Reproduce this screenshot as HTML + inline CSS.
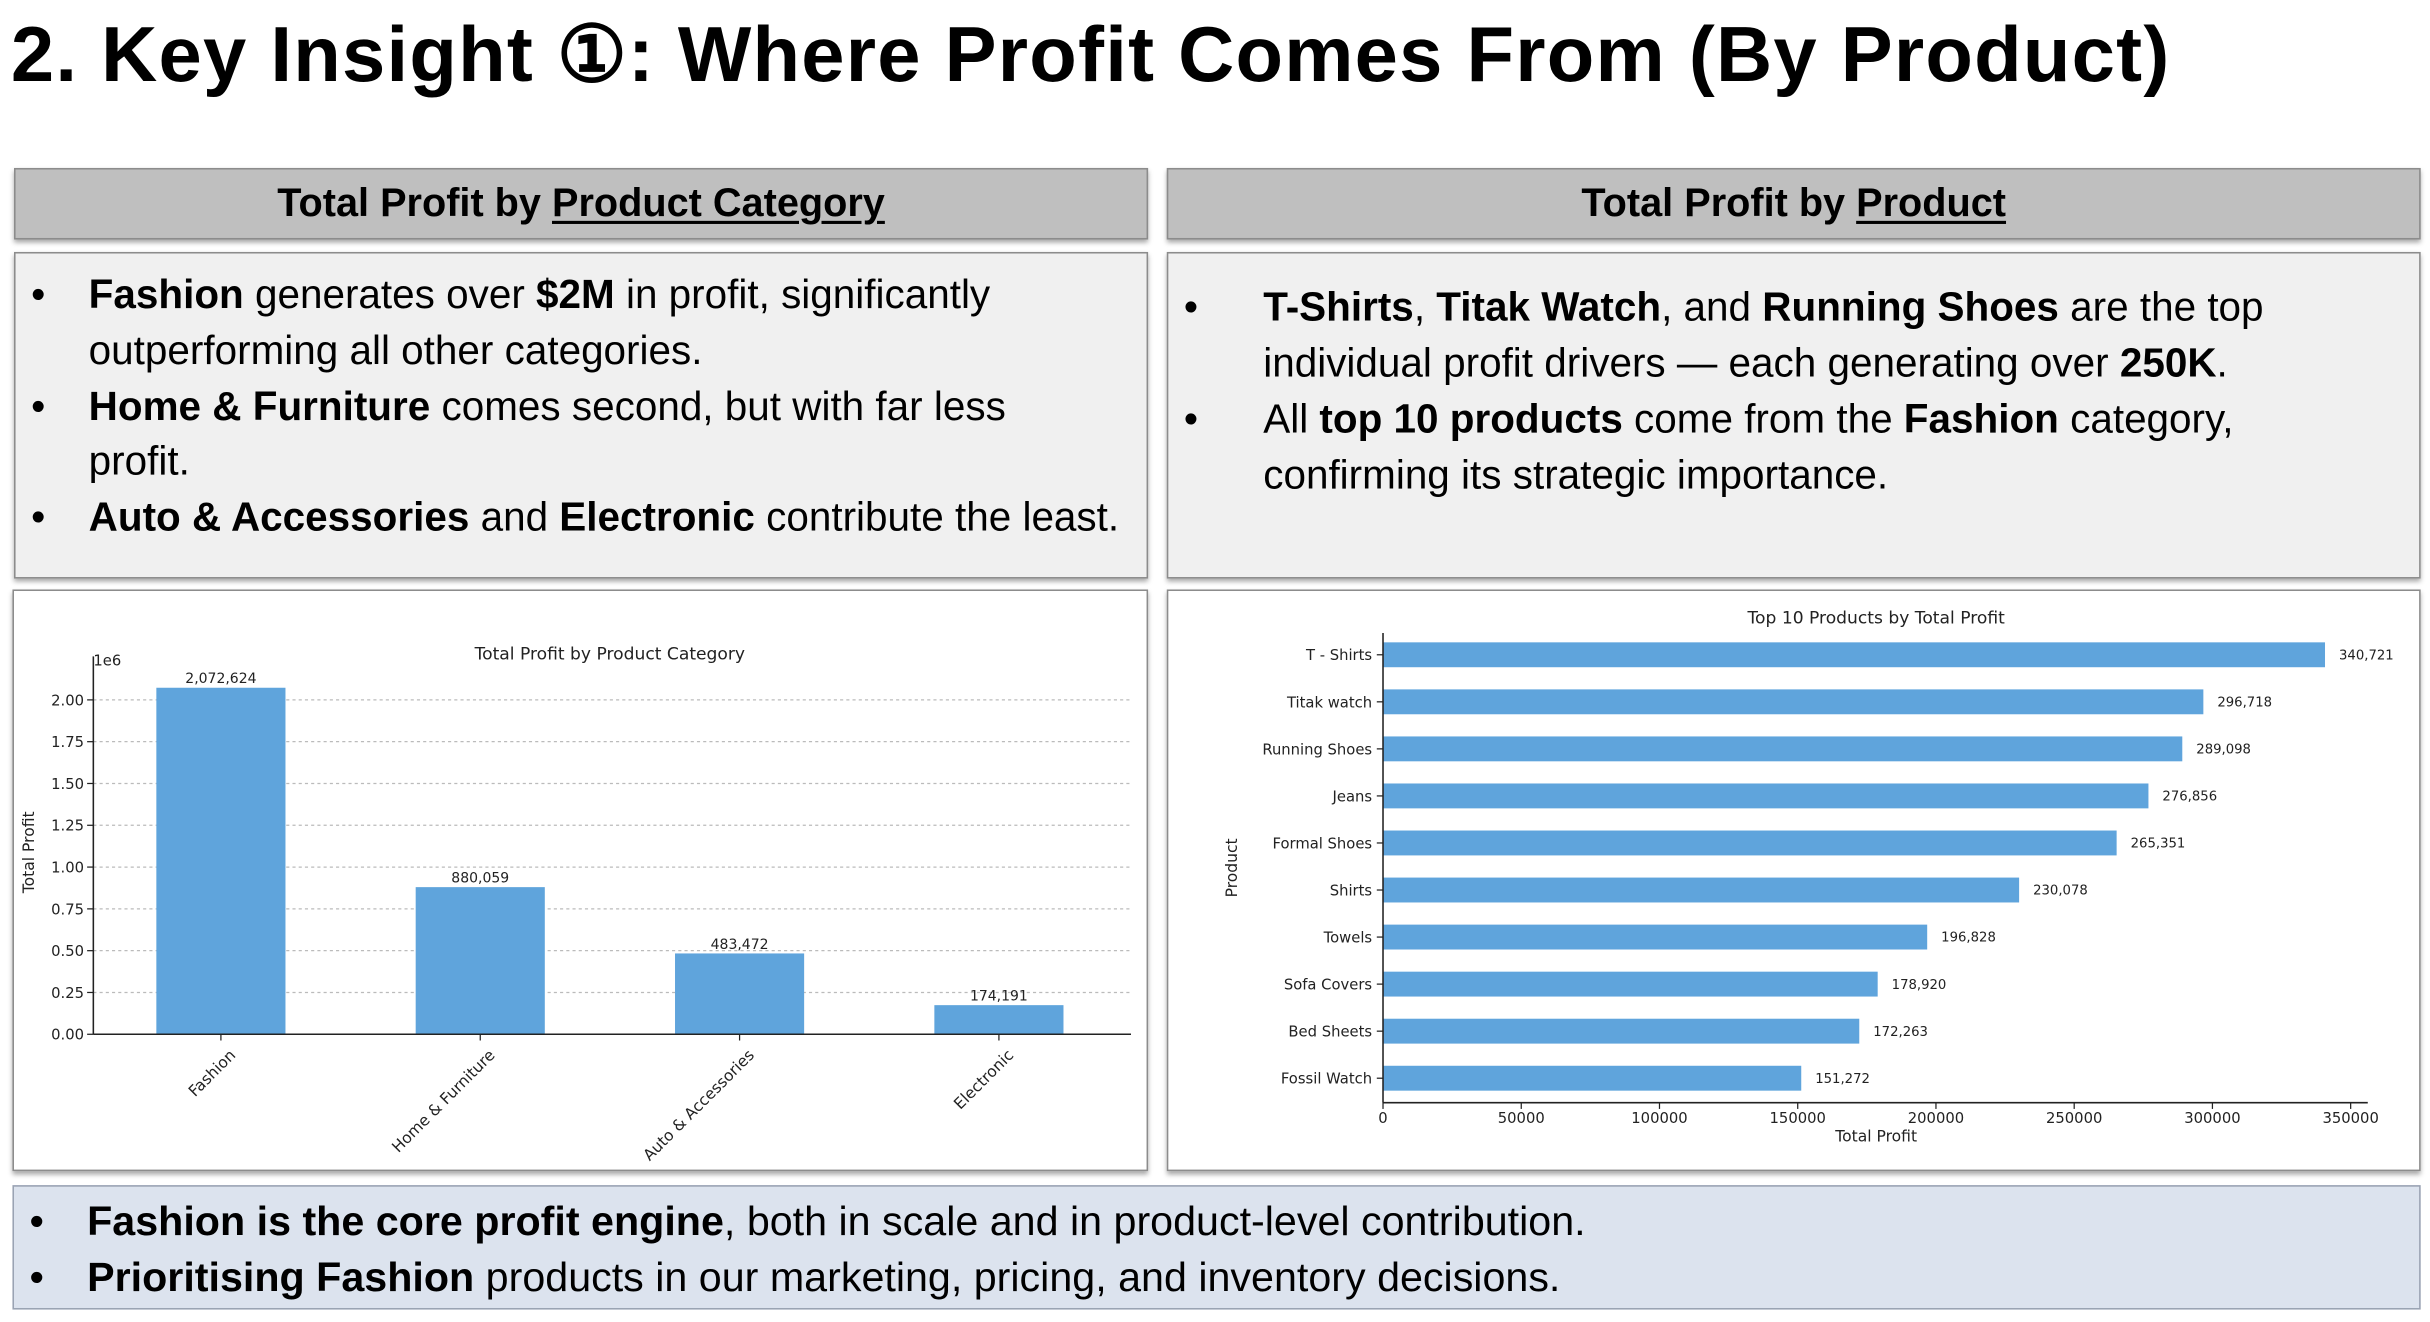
<!DOCTYPE html>
<html><head><meta charset="utf-8">
<style>
html,body{margin:0;padding:0;background:#fff;}
body{width:2430px;height:1322px;overflow:hidden;position:relative;}
#stage{position:absolute;left:0;top:0;width:1562px;height:850px;transform:scale(1.5557,1.5553);transform-origin:0 0;font-family:"Liberation Sans",sans-serif;color:#000;}
.abs{position:absolute;box-sizing:border-box;}
.hdr{background:#bfbfbf;border:1px solid #8c8c8c;box-shadow:0 2px 3px rgba(0,0,0,.35);text-align:center;font-weight:bold;font-size:25.5px;line-height:44px;}
.hdr u{text-decoration-thickness:2px;text-underline-offset:3px;}
.txt{background:#f0f0f0;border:1px solid #8c8c8c;box-shadow:0 2px 3px rgba(0,0,0,.35);font-size:26px;}
.txt ul,.bot ul{margin:0;padding:0;list-style:none;}
.txt li,.bot li{position:relative;padding-left:47px;}
.txt li:before,.bot li:before{content:"•";position:absolute;left:10px;}
.chartbox{background:#fff;border:1px solid #8c8c8c;box-shadow:0 2px 3px rgba(0,0,0,.35);}
.bot{background:#dce3ee;border:1px solid #9aa3b3;font-size:26.5px;}
svg text{font-family:"DejaVu Sans","Liberation Sans",sans-serif;}
</style></head>
<body>
<div id="stage">
  <div class="abs" style="left:7px;top:6px;font-size:50px;font-weight:bold;letter-spacing:0.8px;white-space:nowrap;">2. Key Insight ①: Where Profit Comes From (By Product)</div>

  <div class="abs hdr" style="left:9px;top:108px;width:729px;height:46px;">Total Profit by <u>Product Category</u></div>
  <div class="abs hdr" style="left:750px;top:108px;width:806px;height:46px;">Total Profit by <u>Product</u></div>

  <div class="abs txt" style="left:9px;top:162px;width:729px;height:210px;padding-top:9px;padding-right:20px;line-height:35.8px;">
    <ul>
      <li><b>Fashion</b> generates over <b>$2M</b> in profit, significantly outperforming all other categories.</li>
      <li><b>Home &amp; Furniture</b> comes second, but with far less profit.</li>
      <li style="white-space:nowrap"><b>Auto &amp; Accessories</b> and <b>Electronic</b> contribute the least.</li>
    </ul>
  </div>
  <div class="abs txt" style="left:750px;top:162px;width:806px;height:210px;padding-top:16px;padding-right:80px;line-height:36px;">
    <ul>
      <li style="padding-left:61px"><b>T-Shirts</b>, <b>Titak Watch</b>, and <b>Running Shoes</b> are the top individual profit drivers — each generating over <b>250K</b>.</li>
      <li style="padding-left:61px">All <b>top 10 products</b> come from the <b>Fashion</b> category, confirming its strategic importance.</li>
    </ul>
  </div>

  <div class="abs chartbox" style="left:8px;top:379px;width:730px;height:374px;"></div>
  <div class="abs chartbox" style="left:750px;top:379px;width:806px;height:374px;"></div>

  <svg class="abs" id="c1" style="left:0;top:0" width="1562" height="850"></svg>

  <div class="abs bot" style="left:8px;top:762px;width:1548px;height:80px;padding-top:4px;line-height:36px;">
    <ul>
      <li><b>Fashion is the core profit engine</b>, both in scale and in product-level contribution.</li>
      <li><b>Prioritising Fashion</b> products in our marketing, pricing, and inventory decisions.</li>
    </ul>
  </div>
</div>

<script>
const catNames = ["Fashion","Home & Furniture","Auto & Accessories","Electronic"];
const catValues = [2072624, 880059, 483472, 174191];
const catTicks = [0, 0.25, 0.5, 0.75, 1.0, 1.25, 1.5, 1.75, 2.0];
const prodNames = ["T - Shirts","Titak watch","Running Shoes","Jeans","Formal Shoes","Shirts","Towels","Sofa Covers","Bed Sheets","Fossil Watch"];
const prodValues = [340721, 296718, 289098, 276856, 265351, 230078, 196828, 178920, 172263, 151272];
const prodTicks = [0, 50000, 100000, 150000, 200000, 250000, 300000, 350000];

const NS = "http://www.w3.org/2000/svg";
const svg = document.getElementById("c1");
function mk(tag, attrs, txt){
  const e = document.createElementNS(NS, tag);
  for (const k in attrs) e.setAttribute(k, attrs[k]);
  if (txt !== undefined) e.textContent = txt;
  svg.appendChild(e);
  return e;
}
const fmt = v => v.toLocaleString("en-US");
const BAR = "#5fa4dc";

// ---- Category chart ----
const L = {x0:60, x1:727, y0:665, yTop:422};
const yC = v => L.y0 - (v/1e6) * 107.5;
const xC = i => 142 + i * 166.7;
let e;
e = mk("text",{x:392,y:424,"font-size":11,"text-anchor":"middle",fill:"#222"},"Total Profit by Product Category");


e = mk("text",{x:60,y:428,"font-size":9.5,fill:"#222"},"1e6");


e = mk("text",{x:22,y:548,"font-size":10,"text-anchor":"middle",fill:"#222",transform:"rotate(-90 22 548)"},"Total Profit");


catTicks.forEach(t=>{
  const y = yC(t*1e6);
  if (t>0){
    e = mk("line",{x1:L.x0,x2:L.x1,y1:y,y2:y,stroke:"#bbb","stroke-width":0.8,"stroke-dasharray":"2,2"});
    
    
  }
  e = mk("line",{x1:L.x0-4,x2:L.x0,y1:y,y2:y,stroke:"#222","stroke-width":0.8});
  
  
  e = mk("text",{x:L.x0-6,y:y+3.5,"font-size":9.5,"text-anchor":"end",fill:"#222"},t.toFixed(2));
  
  
});
catValues.forEach((v,i)=>{
  const cx = xC(i), w = 83, y = yC(v);
  e = mk("rect",{x:cx-w/2,y:y,width:w,height:L.y0-y,fill:BAR});
  
  
  e = mk("text",{x:cx,y:y-3,"font-size":9,"text-anchor":"middle",fill:"#222"},fmt(v));
  
  
  e = mk("line",{x1:cx,x2:cx,y1:L.y0,y2:L.y0+4,stroke:"#222","stroke-width":0.8});
  
  
  e = mk("text",{x:cx+10,y:L.y0+14,"font-size":10,"text-anchor":"end",fill:"#222",transform:`rotate(-45 ${cx+10} ${L.y0+14})`},catNames[i]);
  
  
});
e = mk("line",{x1:L.x0,x2:L.x0,y1:L.yTop,y2:L.y0,stroke:"#222","stroke-width":1});


e = mk("line",{x1:L.x0,x2:L.x1,y1:L.y0,y2:L.y0,stroke:"#222","stroke-width":1});



// ---- Product chart ----
const R = {x0:889, xMaxPix:1511, yTop:407, yBot:709};
const xP = v => R.x0 + v/350000*(R.xMaxPix-R.x0);
const yP = i => 421 + i*30.25;
e = mk("text",{x:1206,y:401,"font-size":11,"text-anchor":"middle",fill:"#222"},"Top 10 Products by Total Profit");


e = mk("text",{x:795,y:558,"font-size":10,"text-anchor":"middle",fill:"#222",transform:"rotate(-90 795 558)"},"Product");


e = mk("text",{x:1206,y:734,"font-size":10,"text-anchor":"middle",fill:"#222"},"Total Profit");


prodValues.forEach((v,i)=>{
  const y = yP(i), h = 16;
  e = mk("rect",{x:R.x0,y:y-h/2,width:xP(v)-R.x0,height:h,fill:BAR});
  
  
  e = mk("text",{x:xP(v)+9,y:y+3,"font-size":8.5,fill:"#222"},fmt(v));
  
  
  e = mk("line",{x1:R.x0-4,x2:R.x0,y1:y,y2:y,stroke:"#222","stroke-width":0.8});
  
  
  e = mk("text",{x:R.x0-7,y:y+3.5,"font-size":9.5,"text-anchor":"end",fill:"#222"},prodNames[i]);
  
  
});
prodTicks.forEach(t=>{
  const x = xP(t);
  e = mk("line",{x1:x,x2:x,y1:R.yBot,y2:R.yBot+4,stroke:"#222","stroke-width":0.8});
  
  
  e = mk("text",{x:x,y:R.yBot+13,"font-size":9.5,"text-anchor":"middle",fill:"#222"},String(t));
  
  
});
e = mk("line",{x1:R.x0,x2:R.x0,y1:R.yTop,y2:R.yBot,stroke:"#222","stroke-width":1});


e = mk("line",{x1:R.x0,x2:1522,y1:R.yBot,y2:R.yBot,stroke:"#222","stroke-width":1});


</script>
</body></html>
